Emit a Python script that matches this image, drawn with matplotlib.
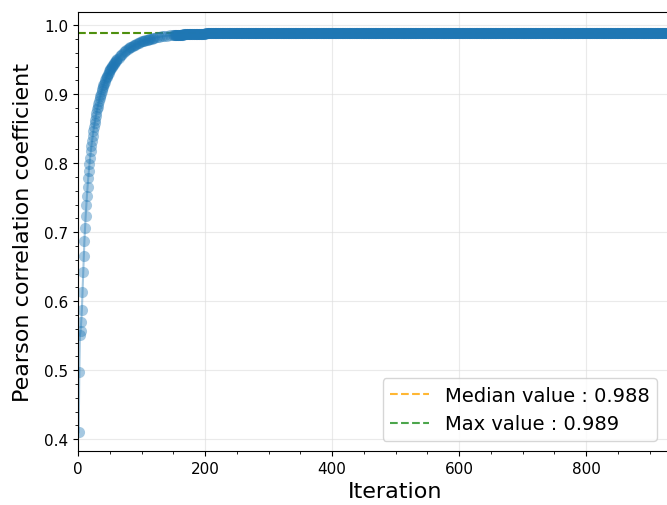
import numpy as np
import matplotlib.pyplot as plt

# early iterations, read one by one
early_iters = list(range(1, 61))
early_vals = [0.410, 0.497, 0.551, 0.557, 0.570, 0.587, 0.613, 0.642, 0.665, 0.687,
              0.706, 0.723, 0.739, 0.753, 0.766, 0.778, 0.789, 0.799, 0.808, 0.817,
              0.825, 0.832, 0.839, 0.846, 0.852, 0.858, 0.863, 0.868, 0.873, 0.878,
              0.882, 0.886, 0.890, 0.894, 0.897, 0.901, 0.904, 0.907, 0.910, 0.913,
              0.915, 0.918, 0.920, 0.923, 0.925, 0.927, 0.929, 0.931, 0.933, 0.935,
              0.937, 0.938, 0.940, 0.941, 0.943, 0.944, 0.946, 0.947, 0.948, 0.949]

# knee of the curve, every 2nd iteration
mid_iters = list(range(62, 122, 2)) + [124, 128, 132, 136, 140, 145, 150]
mid_vals = [0.951, 0.953, 0.955, 0.957, 0.959, 0.961, 0.962, 0.964, 0.965, 0.967,
            0.968, 0.969, 0.970, 0.971, 0.972, 0.973, 0.974, 0.975, 0.976, 0.9765,
            0.977, 0.9775, 0.978, 0.9785, 0.979, 0.9795, 0.980, 0.9805, 0.981, 0.9815,
            0.9825, 0.9832, 0.9838, 0.9843, 0.9848, 0.9852, 0.9856]

# plateau, read block by block (first iteration of block, value)
plateau_starts = [151, 166, 181, 201, 941]
plateau_vals = [0.9862, 0.9869, 0.9876, 0.9884, 0.9890]
last_iter = 1000

lengths = np.diff(plateau_starts + [last_iter + 1])
plat_iters = np.arange(plateau_starts[0], last_iter + 1)
plat_vals = np.repeat(plateau_vals, lengths)

iters = np.concatenate([early_iters, mid_iters, plat_iters])
vals = np.concatenate([early_vals, mid_vals, plat_vals])

med = np.median(vals)
mx = np.max(vals)

fig = plt.figure(figsize=(6.67, 5.06), dpi=100)
ax = fig.add_axes([0.117, 0.107, 0.952, 0.867])

ax.axhline(med, color='orange', ls='--', lw=1.5, alpha=0.8, label='Median value : %.3f' % med, zorder=1)
ax.axhline(mx, color='green', ls='--', lw=1.5, alpha=0.7, label='Max value : %.3f' % mx, zorder=1)
ax.plot(iters, vals, '-o', color='#1f77b4', alpha=0.4, markersize=8, mew=0, lw=1.5, zorder=2)

ax.set_xlim(0, 1000)
ax.set_ylim(0.383, 1.019)
ax.set_xticks(np.arange(0, 801, 200))
ax.set_xticks(np.arange(0, 1001, 50), minor=True)
ax.set_yticks(np.arange(0.4, 1.01, 0.1))
ax.set_yticks(np.arange(0.4, 1.02, 0.02), minor=True)
ax.tick_params(axis='both', which='major', labelsize=11)
ax.grid(True, which='major', color='#dddddd', alpha=0.6, lw=0.8)
ax.set_axisbelow(True)

ax.set_xlabel('Iteration', fontsize=16)
ax.set_ylabel('Pearson correlation coefficient', fontsize=16, labelpad=8)

ax.legend(loc='lower right', fontsize=14, bbox_to_anchor=(1.0, 54 / 506),
          bbox_transform=fig.transFigure)

fig.savefig('out.png', dpi=100)
